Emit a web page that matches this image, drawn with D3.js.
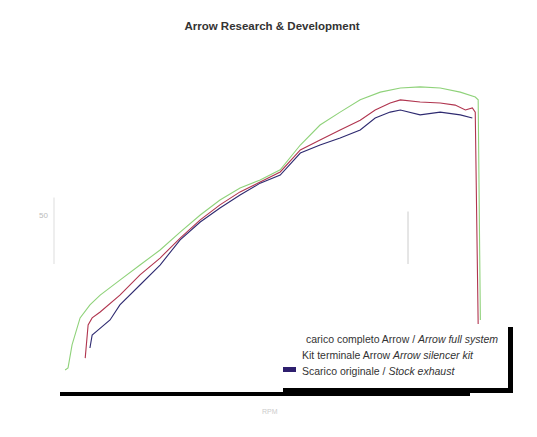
<!DOCTYPE html>
<html><head><meta charset="utf-8">
<script src="https://cdn.jsdelivr.net/npm/d3@7"></script>
<style>body{margin:0;background:#fff;font-family:"Liberation Sans",Arial,sans-serif}</style>
</head><body><script>
// power curves (rpm, value)
const fullRpm = [2140,2220,2330,2550,2820,3100,3640,4190,4740,5290,5840,6380,6930,7480,8030,8580,9120,9670,10220,10770,11320,11860,12410,12960,13370,13450,13510];
const fullVal = [5.7,6.3,12.9,20.6,24.3,27.1,31.4,35.7,40,45.1,50,54.3,57.7,60,62.9,70,75.7,79.4,82.9,85.1,86.3,86.6,86.3,85.1,83.7,82.9,20];
const kitRpm = [2690,2770,2880,3100,3640,4190,4740,5290,5840,6380,6930,7480,8030,8580,9120,9670,10220,10630,11040,11320,11860,12410,12820,13100,13290,13370,13450];
const kitVal = [9.1,18.6,20.6,22.3,27.1,32.9,37.7,43.4,48.6,52.9,56.6,59.4,62.3,68.6,71.4,74.3,77.1,80,82,82.9,82.3,82,81.4,80,80.6,79.4,18.6];
const stockRpm = [2820,2880,3040,3370,3640,4190,4740,5290,5840,6380,6930,7480,8030,8580,9120,9670,10220,10630,11040,11320,11860,12410,12960,13290];
const stockVal = [12,15.7,17.1,20,24.3,30,35.7,42.9,48,52,55.7,59.1,61.4,67.7,70,72,74.3,77.7,79.4,80,78.6,79.4,78.6,77.7];
const seriesNames = ["carico completo Arrow / ", "Kit terminale Arrow   ", "Scarico originale / "];
const seriesItalic = ["Arrow full system", "Arrow silencer kit", "Stock exhaust"];
const seriesColors = ["#8fd27a", "#b0354f", "#2e2a70"];

const svg = d3.select("body").append("svg").attr("width", 537).attr("height", 437);
const x = d3.scaleLinear().domain([2000, 13500]).range([60, 480]);
const y = d3.scaleLinear().domain([0, 50]).range([390, 215]);

svg.append("text").attr("x", 272).attr("y", 30).attr("text-anchor", "middle")
  .attr("font-size", 11.5).attr("font-weight", 600).attr("fill", "#333").text("Arrow Research & Development");

// faint y axis fragment
svg.append("line").attr("x1", 54).attr("x2", 54).attr("y1", y(55)).attr("y2", y(36)).attr("stroke", "#ddd");
svg.append("text").attr("x", 48).attr("y", y(50) + 3).attr("text-anchor", "end")
  .attr("font-size", 8).attr("fill", "#bbb").text("50");
svg.append("line").attr("x1", 408).attr("x2", 408).attr("y1", y(51)).attr("y2", y(36)).attr("stroke", "#ccc");

const line = d3.line().x(d => x(d[0])).y(d => y(d[1]));
[[fullRpm, fullVal], [kitRpm, kitVal], [stockRpm, stockVal]].forEach((s, i) => {
  svg.append("path").datum(d3.zip(s[0], s[1])).attr("d", line)
    .attr("fill", "none").attr("stroke", seriesColors[i]).attr("stroke-width", 1.1);
});

// thick x axis bar
svg.append("rect").attr("x", 60).attr("y", 392).attr("width", 410).attr("height", 4).attr("fill", "#000");
svg.append("text").attr("x", 262).attr("y", 414).attr("font-size", 7).attr("fill", "#ccc").text("RPM");

// legend box with shadow
svg.append("rect").attr("x", 283).attr("y", 327).attr("width", 230).attr("height", 66).attr("fill", "#000");
svg.append("rect").attr("x", 280).attr("y", 324).attr("width", 228).attr("height", 64).attr("fill", "#fff");
seriesNames.forEach((n, i) => {
  const ty = 343 + i * 16;
  const t = svg.append("text").attr("x", i == 0 ? 306 : 302).attr("y", ty)
    .attr("font-size", 10.5).attr("fill", "#333");
  t.append("tspan").text(n);
  t.append("tspan").attr("font-style", "italic").text(seriesItalic[i]);
});
svg.append("rect").attr("x", 283).attr("y", 367).attr("width", 13).attr("height", 5).attr("fill", "#2e1f6e");
</script></body></html>
